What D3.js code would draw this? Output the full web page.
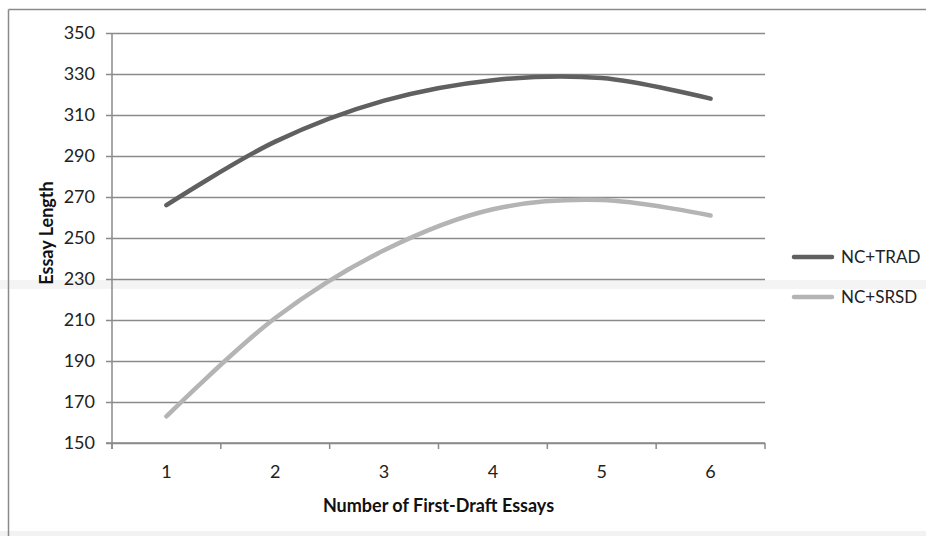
<!DOCTYPE html>
<html>
<head>
<meta charset="utf-8">
<script src="https://cdn.jsdelivr.net/npm/d3@7"></script>
<style>
  html, body { margin: 0; padding: 0; background: #fff; }
  svg { display: block; }
</style>
</head>
<body>
<svg id="chart" width="926" height="536"></svg>
<script>
// ---- data ----
const categories = [1, 2, 3, 4, 5, 6];
const seriesNames = ["NC+TRAD", "NC+SRSD"];
const tradValues = [266, 297, 317, 327, 328, 318];
const srsdValues = [163, 211, 244, 264, 268.5, 261];
const yTicks = [150, 170, 190, 210, 230, 250, 270, 290, 310, 330, 350];
const xTitle = "Number of First-Draft Essays";
const yTitle = "Essay Length";

const seriesColors = ["#606060", "#b4b4b4"];
const series = [
  { name: seriesNames[0], values: tradValues, color: seriesColors[0] },
  { name: seriesNames[1], values: srsdValues, color: seriesColors[1] }
];

const font = "Lato, 'Open Sans', sans-serif";
const svg = d3.select("#chart");
const W = 926, H = 536;
const pLeft = 112, pRight = 765, pTop = 33, pBottom = 443;

// scanning artifacts / frame
svg.append("rect").attr("x", 0).attr("y", 280).attr("width", W).attr("height", 9).attr("fill", "#f4f4f4");
svg.append("rect").attr("x", 0).attr("y", 531).attr("width", W).attr("height", 5).attr("fill", "#f2f2f2");
svg.append("line").attr("x1", 8.5).attr("x2", 8.5).attr("y1", 9.5).attr("y2", H)
  .attr("stroke", "#8a8a8a").attr("stroke-width", 1.5);
svg.append("line").attr("x1", 8.5).attr("x2", W).attr("y1", 9.5).attr("y2", 9.5)
  .attr("stroke", "#8a8a8a").attr("stroke-width", 1.5);

const x = d3.scaleBand().domain(categories).range([pLeft, pRight]).padding(0);
const y = d3.scaleLinear().domain([150, 350]).range([pBottom, pTop]);

// gridlines
const grid = svg.append("g").attr("transform", `translate(${pLeft},0)`)
  .call(d3.axisLeft(y).tickValues(yTicks).tickSize(-(pRight - pLeft)).tickFormat(""));
grid.select(".domain").remove();
grid.selectAll(".tick line").attr("stroke", "#8a8a8a").attr("stroke-width", 1.5);

// y axis
const yAxis = svg.append("g").attr("transform", `translate(${pLeft},0)`)
  .call(d3.axisLeft(y).tickValues(yTicks).tickSize(6).tickPadding(11).tickSizeOuter(0));
yAxis.select(".domain").attr("stroke", "#8a8a8a").attr("stroke-width", 1.5)
  .attr("d", `M0,${pTop}V${pBottom + 6}`);
yAxis.selectAll(".tick line").attr("stroke", "#8a8a8a").attr("stroke-width", 1.5);
yAxis.selectAll(".tick text").attr("font-family", font).attr("font-size", 18).attr("fill", "#222");

// x axis
const xAxis = svg.append("g").attr("transform", `translate(0,${pBottom})`)
  .call(d3.axisBottom(x).tickSize(0).tickPadding(22));
xAxis.select(".domain").attr("stroke", "#8a8a8a").attr("stroke-width", 1.5)
  .attr("d", `M${pLeft - 6},0H${pRight}`);
xAxis.selectAll(".tick text").attr("font-family", font).attr("font-size", 18).attr("fill", "#222");
const boundaries = categories.map(c => x(c)).concat([x(categories[categories.length - 1]) + x.bandwidth()]);
xAxis.selectAll(".bnd").data(boundaries).enter().append("line")
  .attr("x1", d => d).attr("x2", d => d).attr("y1", 0).attr("y2", 6)
  .attr("stroke", "#8a8a8a").attr("stroke-width", 1.5);

// lines
const line = d3.line()
  .x((d, i) => x(categories[i]) + x.bandwidth() / 2)
  .y(d => y(d))
  .curve(d3.curveCatmullRom.alpha(0.5));
svg.append("g").selectAll("path").data(series).enter().append("path")
  .attr("d", d => line(d.values))
  .attr("fill", "none")
  .attr("stroke", d => d.color)
  .attr("stroke-width", 4.5)
  .attr("stroke-linecap", "round");

// titles
svg.append("text").attr("x", (pLeft + pRight) / 2).attr("y", 512)
  .attr("text-anchor", "middle").attr("font-family", font).attr("font-weight", "bold")
  .attr("font-size", 18).attr("fill", "#111").text(xTitle);
svg.append("text").attr("transform", `translate(53,233) rotate(-90)`)
  .attr("text-anchor", "middle").attr("font-family", font).attr("font-weight", "bold")
  .attr("font-size", 18).attr("fill", "#111").text(yTitle);

// legend
const legendY = [257, 297];
const lg = svg.append("g").selectAll("g").data(series).enter().append("g")
  .attr("transform", (d, i) => `translate(0,${legendY[i]})`);
lg.append("line").attr("x1", 794).attr("x2", 832).attr("y1", 0).attr("y2", 0)
  .attr("stroke", d => d.color).attr("stroke-width", 4.5).attr("stroke-linecap", "round");
lg.append("text").attr("x", 841).attr("y", 0).attr("dy", "0.35em")
  .attr("font-family", font).attr("font-size", 17).attr("fill", "#222").text(d => d.name);
</script>
</body>
</html>
